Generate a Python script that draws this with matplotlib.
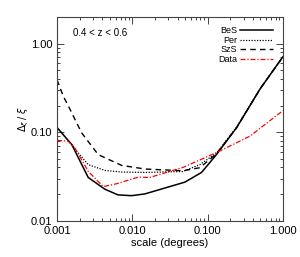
import matplotlib
matplotlib.use("Agg")
import matplotlib.pyplot as plt
from matplotlib.ticker import FixedLocator, FixedFormatter, LogLocator, NullFormatter

plt.rcParams['font.family'] = ['Liberation Sans', 'DejaVu Sans']

# BeS (solid)
bes_x = [0.001, 0.00157, 0.0026, 0.00433, 0.00644, 0.0098, 0.0147, 0.0499, 0.083, 0.131, 0.242, 0.5, 1.0]
bes_y = [0.113, 0.0725, 0.0308, 0.0227, 0.0196, 0.0192, 0.0201, 0.0273, 0.0351, 0.0558, 0.112, 0.31, 0.71]

# Per (dotted)
per_x = [0.001, 0.00157, 0.0018, 0.0026, 0.00433, 0.0072, 0.0147, 0.047, 0.0787, 0.131, 0.242, 0.5, 1.0]
per_y = [0.113, 0.0725, 0.062, 0.043, 0.037, 0.0355, 0.0351, 0.036, 0.043, 0.058, 0.114, 0.31, 0.71]

# SzS (dashed)
szs_x = [0.001, 0.00121, 0.00149, 0.00182, 0.00213, 0.00353, 0.0072, 0.0147, 0.047, 0.0787, 0.131, 0.242, 0.5, 1.0]
szs_y = [0.39, 0.256, 0.181, 0.128, 0.098, 0.0558, 0.0422, 0.0384, 0.0367, 0.0397, 0.057, 0.112, 0.31, 0.71]

# Data (red dash-dot)
dat_x = [0.001, 0.00141, 0.00173, 0.0026, 0.00411, 0.0062, 0.0098, 0.012, 0.017, 0.047, 0.131, 0.363, 1.0]
dat_y = [0.081, 0.079, 0.0663, 0.0361, 0.0243, 0.0262, 0.0295, 0.0311, 0.0308, 0.040, 0.0588, 0.090, 0.175]

xticks = [0.001, 0.01, 0.1, 1.0]
xlabels = ['0.001', '0.010', '0.100', '1.000']
yticks = [0.01, 0.1, 1.0]
ylabels = ['0.01', '0.10', '1.00']

fig = plt.figure(figsize=(3.0, 2.57), dpi=100)
ax = fig.add_axes([0.19, 0.141, 0.753, 0.793])

ax.plot(bes_x, bes_y, color='black', lw=1.1, ls='-', label='BeS')
ax.plot(per_x, per_y, color='black', lw=0.9, ls=(0, (1, 1.2)), label='Per')
ax.plot(szs_x, szs_y, color='black', lw=1.0, ls=(0, (4, 3)), label='SzS')
ax.plot(dat_x, dat_y, color='red', lw=0.9, ls=(0, (4, 1.5, 1, 1.5)), label='Data')

ax.set_xscale('log')
ax.set_yscale('log')
ax.set_xlim(0.001, 1.0)
ax.set_ylim(0.01, 2.0)

ax.xaxis.set_major_locator(FixedLocator(xticks))
ax.xaxis.set_major_formatter(FixedFormatter(xlabels))
ax.yaxis.set_major_locator(FixedLocator(yticks))
ax.yaxis.set_major_formatter(FixedFormatter(ylabels))
ax.xaxis.set_minor_locator(LogLocator(base=10, subs=range(2, 10)))
ax.yaxis.set_minor_locator(LogLocator(base=10, subs=range(2, 10)))
ax.xaxis.set_minor_formatter(NullFormatter())
ax.yaxis.set_minor_formatter(NullFormatter())

ax.tick_params(which='both', direction='in', top=True, right=True, labelsize=8, width=0.7, color='#444444')
ax.tick_params(which='major', length=5)
ax.tick_params(which='minor', length=2.5)
for s in ax.spines.values():
    s.set_linewidth(0.8)
    s.set_color('#444444')

ax.set_xlabel('scale (degrees)', fontsize=8, labelpad=2)
ax.set_ylabel(r'$\Delta_\xi\,/\;\xi$', fontsize=7, labelpad=0)

ax.text(0.07, 0.92, '0.4 < z < 0.6', transform=ax.transAxes, fontsize=7, va='center', ha='left')

ax.legend(loc='upper right', bbox_to_anchor=(0.98, 0.98), frameon=False, markerfirst=False,
          fontsize=6.5, handlelength=3.7, handletextpad=0.3, labelspacing=0.05, borderaxespad=0.2)

fig.savefig('out.png', dpi=100)
